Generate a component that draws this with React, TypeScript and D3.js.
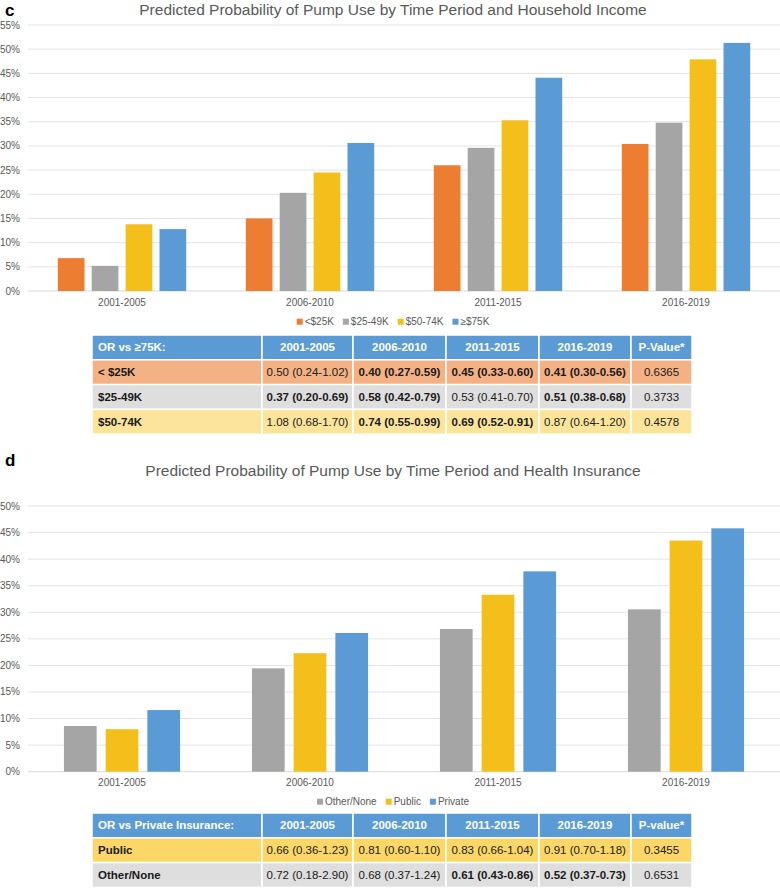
import React from 'react'
import * as d3 from 'd3'

// periods shared by both panels
const periods = ['2001-2005', '2006-2010', '2011-2015', '2016-2019']

// panel c: household income (percent)
const incomeGroups = ['<$25K', '$25-49K', '$50-74K', '≥$75K']
const incomeUnder25 = [6.8, 15.0, 26.0, 30.4]
const income25to49 = [5.2, 20.3, 29.6, 34.8]
const income50to74 = [13.8, 24.5, 35.3, 47.9]
const income75plus = [12.8, 30.6, 44.1, 51.3]
const incomeTicks = [0, 5, 10, 15, 20, 25, 30, 35, 40, 45, 50, 55]

// panel d: health insurance (percent)
const insuranceGroups = ['Other/None', 'Public', 'Private']
const insuranceOther = [8.6, 19.45, 26.85, 30.55]
const insurancePublic = [8.0, 22.3, 33.3, 43.5]
const insurancePrivate = [11.6, 26.1, 37.7, 45.8]
const insuranceTicks = [0, 5, 10, 15, 20, 25, 30, 35, 40, 45, 50]

// odds ratio tables
const tableCHeader = ['OR vs ≥75K:', '2001-2005', '2006-2010', '2011-2015', '2016-2019', 'P-Value*']
const tableCRows = ['< $25K', '$25-49K', '$50-74K']
const tableCCells = [
  ['0.50 (0.24-1.02)', '0.40 (0.27-0.59)', '0.45 (0.33-0.60)', '0.41 (0.30-0.56)', '0.6365'],
  ['0.37 (0.20-0.69)', '0.58 (0.42-0.79)', '0.53 (0.41-0.70)', '0.51 (0.38-0.68)', '0.3733'],
  ['1.08 (0.68-1.70)', '0.74 (0.55-0.99)', '0.69 (0.52-0.91)', '0.87 (0.64-1.20)', '0.4578'],
]
const tableCSig = [
  [false, true, true, true, false],
  [true, true, false, true, false],
  [false, true, true, false, false],
]
const tableDHeader = ['OR vs Private Insurance:', '2001-2005', '2006-2010', '2011-2015', '2016-2019', 'P-value*']
const tableDRows = ['Public', 'Other/None']
const tableDCells = [
  ['0.66 (0.36-1.23)', '0.81 (0.60-1.10)', '0.83 (0.66-1.04)', '0.91 (0.70-1.18)', '0.3455'],
  ['0.72 (0.18-2.90)', '0.68 (0.37-1.24)', '0.61 (0.43-0.86)', '0.52 (0.37-0.73)', '0.6531'],
]
const tableDSig = [
  [false, false, false, false, false],
  [false, false, true, true, false],
]

const FONT = '"Liberation Sans", Arial, sans-serif'
const AXIS_GREY = '#595959'

const ctx = typeof document !== 'undefined' ? document.createElement('canvas').getContext('2d') : null
function textWidth(s: string, size: number) {
  if (!ctx) return s.length * size * 0.55
  ctx.font = `${size}px "Liberation Sans"`
  return ctx.measureText(s).width
}

function Legend({names, colors, cx, cy}) {
  const sq = 6
  let items = []
  let x = 0
  names.forEach((n, i) => {
    items.push({n, x, c: colors[i]})
    x += sq + 2 + textWidth(n, 10) + 9
  })
  const total = x - 9
  const x0 = cx - total / 2
  return (
    <g>
      {items.map(it => (
        <g key={it.n}>
          <rect x={x0 + it.x} y={cy - sq / 2} width={sq} height={sq} fill={it.c} />
          <text x={x0 + it.x + sq + 2} y={cy + 3.5} fontSize={10} fill={AXIS_GREY} fontFamily={FONT}>{it.n}</text>
        </g>
      ))}
    </g>
  )
}

function BarPanel({letter, title, titleY, letterY, series, values, colors, ticks, yTop, yBottom, barW, gapW, catY, legendY}) {
  const x0 = d3.scaleBand().domain(periods).range([28, 780])
  const groupW = series.length * barW + (series.length - 1) * gapW
  const x1 = d3.scaleBand().domain(series).range([0, groupW]).paddingInner(gapW / (barW + gapW))
  const y = d3.scaleLinear().domain([0, ticks[ticks.length - 1]]).range([yBottom, yTop])
  return (
    <g>
      <text x={5} y={letterY} fontSize={17} fontWeight="bold" fontFamily={FONT} fill="#000">{letter}</text>
      <text x={393} y={titleY} fontSize={15.5} textAnchor="middle" fontFamily={FONT} fill={AXIS_GREY}>{title}</text>
      {ticks.map(t => (
        <g key={t}>
          <line x1={28} x2={780} y1={y(t)} y2={y(t)} stroke={t === 0 ? '#d9d9d9' : '#e4e4e4'} strokeWidth={1} />
          <text x={20} y={y(t) + 3.5} textAnchor="end" fontSize={10} fontFamily={FONT} fill={AXIS_GREY}>{t + '%'}</text>
        </g>
      ))}
      {periods.map((p, i) => {
        const gx = x0(p) + (x0.bandwidth() - groupW) / 2
        return (
          <g key={p}>
            {series.map((s, j) => (
              <rect key={s} x={gx + x1(s)} width={x1.bandwidth()} y={y(values[j][i])}
                height={y(0) - y(values[j][i])} fill={colors[j]} />
            ))}
            <text x={x0(p) + x0.bandwidth() / 2} y={catY} textAnchor="middle" fontSize={10} fontFamily={FONT} fill={AXIS_GREY}>{p}</text>
          </g>
        )
      })}
      <Legend names={series} colors={colors} cx={393} cy={legendY} />
    </g>
  )
}

const colEdges = [92, 262, 353, 446, 539, 631, 692]

function OrTable({top, header, rows, cells, sig, rowFills}) {
  const rowH = 24.8
  const allRows = [header].concat(rows.map((r, i) => [r].concat(cells[i])))
  return (
    <g fontFamily={FONT} fontSize={11.5}>
      {allRows.map((row, ri) => {
        const y0 = top + ri * rowH
        const fill = ri === 0 ? '#5b9bd5' : rowFills[ri - 1]
        return (
          <g key={ri}>
            {row.map((c, ci) => {
              const xa = colEdges[ci], xb = colEdges[ci + 1]
              const bold = ri === 0 || ci === 0 || sig[ri - 1][ci - 1]
              return (
                <g key={ci}>
                  <rect x={xa} y={y0} width={xb - xa} height={rowH} fill={fill} stroke="#fff" strokeWidth={1.5} />
                  <text x={ci === 0 ? xa + 6 : (xa + xb) / 2} y={y0 + rowH / 2 + 4}
                    textAnchor={ci === 0 ? 'start' : 'middle'} fontWeight={bold ? 'bold' : 'normal'}
                    fill={ri === 0 ? '#fff' : '#1a1a1a'}>{c}</text>
                </g>
              )
            })}
          </g>
        )
      })}
    </g>
  )
}

export default function App() {
  return (
    <svg width={780} height={890} style={{position: 'absolute', left: 0, top: 0, background: '#fff'}}>
      <rect width={780} height={890} fill="#fff" />
      <BarPanel letter="c" title="Predicted Probability of Pump Use by Time Period and Household Income"
        titleY={15} letterY={16} series={incomeGroups}
        values={[incomeUnder25, income25to49, income50to74, income75plus]}
        colors={['#ed7d31', '#a5a5a5', '#f5bf1b', '#5b9bd5']}
        ticks={incomeTicks} yTop={25} yBottom={291} barW={26.7} gapW={7.2} catY={305.5} legendY={321.7} />
      <OrTable top={335} header={tableCHeader} rows={tableCRows} cells={tableCCells} sig={tableCSig}
        rowFills={['#f4b183', '#dedede', '#fce49a']} />
      <BarPanel letter="d" title="Predicted Probability of Pump Use by Time Period and Health Insurance"
        titleY={476} letterY={466} series={insuranceGroups}
        values={[insuranceOther, insurancePublic, insurancePrivate]}
        colors={['#a5a5a5', '#f5bf1b', '#5b9bd5']}
        ticks={insuranceTicks} yTop={506} yBottom={771.7} barW={32.7} gapW={9} catY={786} legendY={801.7} />
      <OrTable top={813} header={tableDHeader} rows={tableDRows} cells={tableDCells} sig={tableDSig}
        rowFills={['#fad766', '#dedede']} />
    </svg>
  )
}
